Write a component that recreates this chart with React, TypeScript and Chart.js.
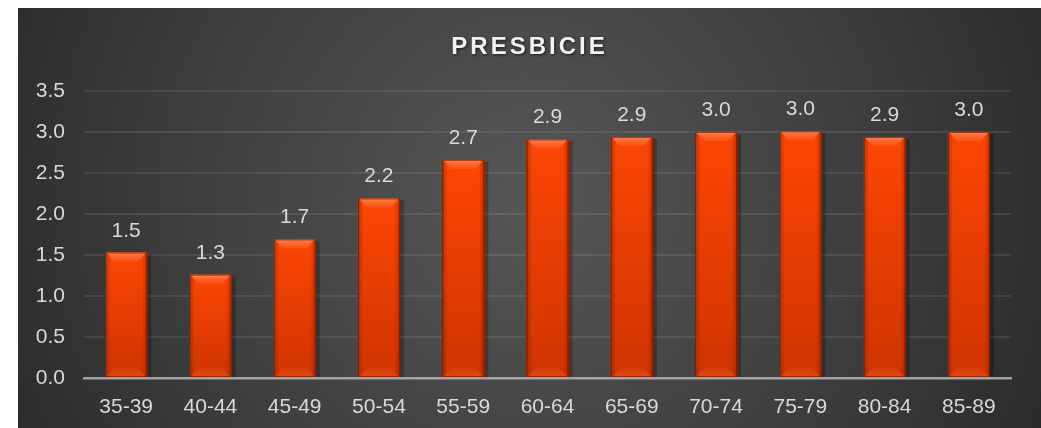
import React, { useEffect, useRef } from "react";
import { Chart, registerables } from "chart.js";

Chart.register(...registerables);

const categories = ["35-39", "40-44", "45-49", "50-54", "55-59", "60-64", "65-69", "70-74", "75-79", "80-84", "85-89"];
const values = [1.53, 1.26, 1.69, 2.19, 2.66, 2.91, 2.94, 3.0, 3.01, 2.94, 3.0];
const titleText = "PRESBICIE";
const yMax = 3.5;
const yStep = 0.5;

const FONT = '"Liberation Sans", Arial, sans-serif';

const backgroundPlugin = {
  id: "bgBox",
  beforeDraw(chart: any) {
    const { ctx, width, height } = chart;
    ctx.save();
    const g = ctx.createRadialGradient(525, 200, 20, 525, 200, 620);
    g.addColorStop(0, "#555555");
    g.addColorStop(0.55, "#3d3d3d");
    g.addColorStop(1, "#262626");
    ctx.fillStyle = g;
    ctx.fillRect(18, 8, width - 18, height - 8);
    ctx.restore();
  },
};

const titlePlugin = {
  id: "customTitle",
  afterDraw(chart: any) {
    const { ctx } = chart;
    ctx.save();
    ctx.font = `bold 24px ${FONT}`;
    (ctx as any).letterSpacing = "3px";
    ctx.textAlign = "center";
    ctx.textBaseline = "alphabetic";
    ctx.shadowColor = "rgba(0,0,0,0.65)";
    ctx.shadowBlur = 3;
    ctx.shadowOffsetX = 1;
    ctx.shadowOffsetY = 1;
    ctx.fillStyle = "#f2f2f2";
    ctx.fillText(titleText, 529.5, 53.5);
    ctx.restore();
  },
};

const barStylePlugin = {
  id: "barStyle",
  beforeDatasetsDraw(chart: any) {
    const { ctx } = chart;
    const meta = chart.getDatasetMeta(0);
    ctx.save();
    meta.data.forEach((el: any) => {
      const { x, y, base, width } = el.getProps(["x", "y", "base", "width"], true);
      const l = x - width / 2;
      ctx.fillStyle = "rgba(0,0,0,0.25)";
      ctx.fillRect(l + 2, y + 2, width + 2, base - y - 2);
    });
    ctx.restore();
  },
  afterDatasetsDraw(chart: any) {
    const { ctx } = chart;
    const meta = chart.getDatasetMeta(0);
    ctx.save();
    meta.data.forEach((el: any, i: number) => {
      const { x, y, base, width } = el.getProps(["x", "y", "base", "width"], true);
      const l = x - width / 2;
      const r = x + width / 2;
      const t = y;
      const b = base;
      const h = b - t;
      const vg = ctx.createLinearGradient(0, t, 0, b);
      vg.addColorStop(0, "#fc4604");
      vg.addColorStop(1, "#cf3400");
      ctx.fillStyle = vg;
      ctx.fillRect(l, t, width, h);
      const hg = ctx.createLinearGradient(l, 0, r, 0);
      hg.addColorStop(0, "rgba(110,20,0,0.7)");
      hg.addColorStop(0.06, "rgba(150,35,0,0.25)");
      hg.addColorStop(0.12, "rgba(0,0,0,0)");
      hg.addColorStop(0.88, "rgba(0,0,0,0)");
      hg.addColorStop(0.94, "rgba(150,35,0,0.25)");
      hg.addColorStop(1, "rgba(110,20,0,0.7)");
      ctx.fillStyle = hg;
      ctx.fillRect(l, t, width, h);
      const bv = Math.min(9, h / 3);
      const tg = ctx.createLinearGradient(0, t, 0, t + bv);
      tg.addColorStop(0, "rgba(255,150,100,0.75)");
      tg.addColorStop(1, "rgba(255,110,60,0.3)");
      ctx.fillStyle = tg;
      ctx.beginPath();
      ctx.moveTo(l + 1, t);
      ctx.lineTo(r - 1, t);
      ctx.lineTo(r - bv, t + bv);
      ctx.lineTo(l + bv, t + bv);
      ctx.closePath();
      ctx.fill();
      const bg = ctx.createLinearGradient(0, b - bv, 0, b);
      bg.addColorStop(0, "rgba(230,80,30,0.25)");
      bg.addColorStop(1, "rgba(240,100,50,0.45)");
      ctx.fillStyle = bg;
      ctx.beginPath();
      ctx.moveTo(l + bv, b - bv);
      ctx.lineTo(r - bv, b - bv);
      ctx.lineTo(r - 1, b);
      ctx.lineTo(l + 1, b);
      ctx.closePath();
      ctx.fill();
      ctx.strokeStyle = "rgba(120,28,0,0.7)";
      ctx.lineWidth = 1;
      ctx.strokeRect(l + 0.5, t + 0.5, width - 1, h - 1);
      ctx.font = `21px ${FONT}`;
      ctx.textAlign = "center";
      ctx.textBaseline = "alphabetic";
      ctx.fillStyle = "#d9d9d9";
      ctx.fillText(values[i].toFixed(1), x, t - 16);
    });
    ctx.restore();
  },
};

export default function App() {
  const canvasRef = useRef<HTMLCanvasElement | null>(null);

  useEffect(() => {
    if (!canvasRef.current) return;
    const chart = new Chart(canvasRef.current, {
      type: "bar",
      data: {
        labels: categories,
        datasets: [
          {
            data: values,
            backgroundColor: "#f04000",
            borderWidth: 0,
            barPercentage: 0.5,
            categoryPercentage: 1.0,
          },
        ],
      },
      options: {
        animation: false,
        responsive: false,
        maintainAspectRatio: false,
        devicePixelRatio: 1,
        layout: { padding: { left: 18, right: 30, top: 91, bottom: 0 } },
        plugins: {
          legend: { display: false },
          title: { display: false },
          tooltip: { enabled: false },
        },
        scales: {
          x: {
            grid: { display: false },
            border: { display: true, color: "#a3a3a3", width: 2.5 },
            ticks: {
              color: "#d9d9d9",
              font: { size: 21, family: FONT },
              padding: 9,
              maxRotation: 0,
              autoSkip: false,
            },
            afterFit(scale: any) {
              scale.height = 50;
            },
          },
          y: {
            min: 0,
            max: yMax,
            grid: { color: "rgba(255,255,255,0.09)", lineWidth: 2, drawTicks: false },
            border: { display: false },
            ticks: {
              stepSize: yStep,
              color: "#d9d9d9",
              font: { size: 21, family: FONT },
              padding: 19,
              callback: (v: any) => Number(v).toFixed(1),
            },
            afterFit(scale: any) {
              scale.width = 66;
            },
          },
        },
      },
      plugins: [backgroundPlugin, barStylePlugin, titlePlugin],
    });
    return () => chart.destroy();
  }, []);

  return (
    <div style={{ position: "fixed", left: 0, top: 0, width: 1041, height: 428 }}>
      <canvas ref={canvasRef} width={1041} height={428} style={{ display: "block" }} />
    </div>
  );
}
